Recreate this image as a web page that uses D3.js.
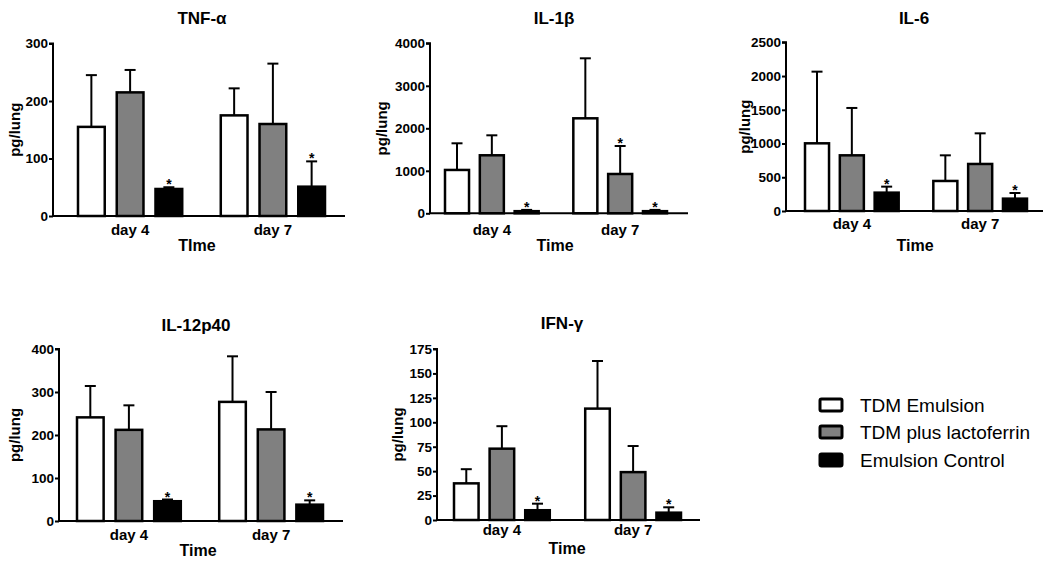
<!DOCTYPE html>
<html><head><meta charset="utf-8">
<script src="https://cdn.jsdelivr.net/npm/d3@7"></script>
<style>
html,body{margin:0;padding:0;background:#fff;}
text{font-family:"Liberation Sans",Arial,Helvetica,sans-serif;}
</style></head>
<body><svg id="chart" width="1050" height="563"></svg>
<script>
// ---- data ----
const days = ["day 4", "day 7"];
const groups = ["TDM Emulsion", "TDM plus lactoferrin", "Emulsion Control"];
const groupFill = ["#ffffff", "#808080", "#000000"];

const tnfMean  = [[155, 215, 47], [175, 160, 51]];
const tnfUpper = [[245, 254, 50], [222, 265, 95]];
const tnfStar  = [[0, 0, 1], [0, 0, 1]];
const tnfTicks = [0, 100, 200, 300];

const il1Mean  = [[1020, 1365, 50], [2235, 925, 50]];
const il1Upper = [[1647, 1835, 80], [3647, 1584, 80]];
const il1Star  = [[0, 0, 1], [0, 1, 1]];
const il1Ticks = [0, 1000, 2000, 3000, 4000];

const il6Mean  = [[1003, 825, 272], [445, 697, 183]];
const il6Upper = [[2065, 1527, 361], [825, 1151, 267]];
const il6Star  = [[0, 0, 1], [0, 0, 1]];
const il6Ticks = [0, 500, 1000, 1500, 2000, 2500];

const il12Mean  = [[241, 212, 46], [277, 213, 38]];
const il12Upper = [[314, 269, 50], [383, 300, 48]];
const il12Star  = [[0, 0, 1], [0, 0, 1]];
const il12Ticks = [0, 100, 200, 300, 400];

const ifnMean  = [[37.5, 73, 10], [114, 49, 7.5]];
const ifnUpper = [[52, 96, 16.7], [162.7, 75.7, 13]];
const ifnStar  = [[0, 0, 1], [0, 0, 1]];
const ifnTicks = [0, 25, 50, 75, 100, 125, 150, 175];

// ---- layout ----
const panels = [
  {title:"TNF-\u03b1", xlab:"TIme", mean:tnfMean, upper:tnfUpper, star:tnfStar, ticks:tnfTicks,
   ax:53, axEnd:345, bL:78, bR:325, yTop:43.5, y0:216, titleX:202, titleY:24, dayY:235, timeX:197, timeY:251, ylabX:15},
  {title:"IL-1\u03b2", xlab:"Time", mean:il1Mean, upper:il1Upper, star:il1Star, ticks:il1Ticks,
   ax:430, axEnd:688, bL:445, bR:667, yTop:43.3, y0:213.3, titleX:554, titleY:24, dayY:235, timeX:555, timeY:251, ylabX:382},
  {title:"IL-6", xlab:"Time", mean:il6Mean, upper:il6Upper, star:il6Star, ticks:il6Ticks,
   ax:786, axEnd:1043, bL:805, bR:1027, yTop:42.3, y0:211, titleX:914, titleY:24, dayY:229, timeX:915, timeY:251, ylabX:745},
  {title:"IL-12p40", xlab:"Time", mean:il12Mean, upper:il12Upper, star:il12Star, ticks:il12Ticks,
   ax:59, axEnd:343, bL:77, bR:323, yTop:349, y0:521, titleX:196, titleY:331, dayY:540, timeX:198, timeY:556, ylabX:15},
  {title:"IFN-\u03b3", xlab:"Time", mean:ifnMean, upper:ifnUpper, star:ifnStar, ticks:ifnTicks,
   ax:437, axEnd:700, bL:454, bR:681, yTop:349, y0:520, titleX:562, titleY:329, dayY:535, timeX:567, timeY:554, ylabX:398}
];

const svg = d3.select("#chart");

panels.forEach(p => {
  const g = svg.append("g");
  const maxT = p.ticks[p.ticks.length - 1];
  const y = d3.scaleLinear().domain([0, maxT]).range([p.y0, p.yTop]);
  const x = d3.scaleBand().domain(days).range([p.bL, p.bR]).paddingInner(0.27).paddingOuter(0);
  const xi = d3.scaleBand().domain(d3.range(groups.length)).range([0, x.bandwidth()]).paddingInner(0.31).paddingOuter(0);

  // error bars (upper only)
  days.forEach((d, di) => {
    groups.forEach((gr, gi) => {
      const cx = x(d) + xi(gi) + xi.bandwidth() / 2;
      const yt = y(p.upper[di][gi]);
      g.append("line").attr("x1", cx).attr("x2", cx)
        .attr("y1", y(p.mean[di][gi])).attr("y2", yt)
        .attr("stroke", "#000").attr("stroke-width", 2);
      g.append("line").attr("x1", cx - 5.5).attr("x2", cx + 5.5)
        .attr("y1", yt).attr("y2", yt)
        .attr("stroke", "#000").attr("stroke-width", 2);
      if (p.star[di][gi]) {
        g.append("text").attr("x", cx).attr("y", yt + 2)
          .attr("text-anchor", "middle").attr("font-size", 14).attr("font-weight", "bold")
          .text("*");
      }
    });
  });

  // bars
  days.forEach((d, di) => {
    g.selectAll(null).data(p.mean[di]).enter().append("rect")
      .attr("x", (v, gi) => x(d) + xi(gi))
      .attr("y", v => y(v))
      .attr("width", xi.bandwidth())
      .attr("height", v => p.y0 - y(v))
      .attr("fill", (v, gi) => groupFill[gi])
      .attr("stroke", "#000").attr("stroke-width", 2.5);
  });

  // y axis
  const ya = g.append("g").attr("transform", `translate(${p.ax},0)`)
    .call(d3.axisLeft(y).tickValues(p.ticks).tickSize(4).tickPadding(1).tickFormat(d3.format("d")));
  ya.select(".domain").attr("stroke-width", 2).attr("d", `M-4,${p.yTop}H0V${p.y0}`);
  ya.selectAll(".tick line").attr("stroke-width", 2);
  ya.selectAll(".tick text").attr("font-size", 13.5).attr("font-weight", "bold")
    .attr("font-family", '"Liberation Sans",Arial,sans-serif').attr("fill", "#000");

  // x axis line
  g.append("line").attr("x1", p.ax - 1).attr("x2", p.axEnd).attr("y1", p.y0).attr("y2", p.y0)
    .attr("stroke", "#000").attr("stroke-width", 2);

  // day labels
  g.selectAll(null).data(days).enter().append("text")
    .attr("x", d => x(d) + x.bandwidth() / 2).attr("y", p.dayY)
    .attr("text-anchor", "middle").attr("font-size", 15).attr("font-weight", "bold")
    .text(d => d);

  // x title
  g.append("text").attr("x", p.timeX).attr("y", p.timeY).attr("text-anchor", "middle")
    .attr("font-size", 16).attr("font-weight", "bold").text(p.xlab);

  // y title
  g.append("text").attr("transform", `translate(${p.ylabX + 5},${(p.y0 + p.yTop) / 2}) rotate(-90)`)
    .attr("text-anchor", "middle").attr("font-size", 15).attr("font-weight", "bold").text("pg/lung");

  // chart title
  g.append("text").attr("x", p.titleX).attr("y", p.titleY).attr("text-anchor", "middle")
    .attr("font-size", 17).attr("font-weight", "bold").text(p.title);
});

// legend
const leg = svg.append("g");
const legY = [405, 432, 460];
groups.forEach((gr, i) => {
  leg.append("rect").attr("x", 820).attr("y", legY[i] - 6).attr("width", 22).attr("height", 12)
    .attr("rx", 1.5).attr("fill", groupFill[i]).attr("stroke", "#000").attr("stroke-width", 3);
  leg.append("text").attr("x", 860).attr("y", legY[i] + 6.5).attr("font-size", 19).text(gr);
});
</script></body></html>
